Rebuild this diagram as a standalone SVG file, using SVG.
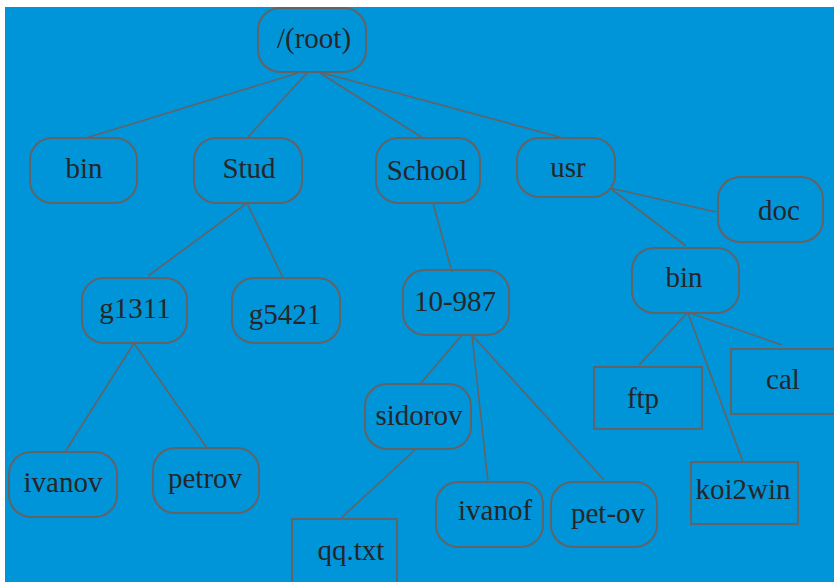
<svg xmlns="http://www.w3.org/2000/svg" width="834" height="582" viewBox="0 0 834 582">
<style>
.n{fill:none;stroke:#626366;stroke-width:2}
.t{font-family:"Liberation Serif",serif;font-size:29px;fill:#262628;text-anchor:middle}
.c{stroke:#626366;stroke-width:1.6;fill:none}
</style>
<rect x="0" y="0" width="834" height="582" fill="#ffffff"/>
<rect x="5" y="7" width="829" height="575" fill="#0095d9"/>
<g id="connectors">
<line class="c" x1="298" y1="73" x2="86" y2="138"/>
<line class="c" x1="307" y1="73" x2="247" y2="138"/>
<line class="c" x1="320" y1="73" x2="423" y2="138"/>
<line class="c" x1="323" y1="73" x2="563" y2="138"/>
<line class="c" x1="610" y1="188" x2="716" y2="212"/>
<line class="c" x1="610" y1="188" x2="686" y2="246"/>
<line class="c" x1="247" y1="203" x2="148" y2="276"/>
<line class="c" x1="247" y1="203" x2="283" y2="278"/>
<line class="c" x1="433" y1="203" x2="452" y2="272"/>
<line class="c" x1="134" y1="343" x2="65" y2="452"/>
<line class="c" x1="134" y1="343" x2="207" y2="448"/>
<line class="c" x1="462" y1="335" x2="420" y2="384"/>
<line class="c" x1="472" y1="335" x2="488" y2="482"/>
<line class="c" x1="472" y1="335" x2="604" y2="480"/>
<line class="c" x1="416" y1="449" x2="340" y2="519"/>
<line class="c" x1="687" y1="313" x2="639" y2="365"/>
<line class="c" x1="690" y1="313" x2="782" y2="345"/>
<line class="c" x1="688" y1="313" x2="743" y2="462"/>
</g>
<g id="root"><rect class="n" x="258" y="8" width="108" height="64" rx="22"/><text class="t" x="314" y="48">/(root)</text></g>
<g id="bin1"><rect class="n" x="30" y="138" width="107" height="65" rx="22"/><text class="t" x="84" y="178">bin</text></g>
<g id="stud"><rect class="n" x="194" y="138" width="108" height="65" rx="22"/><text class="t" x="249" y="178">Stud</text></g>
<g id="school"><rect class="n" x="376" y="138" width="104" height="65" rx="22"/><text class="t" x="427" y="180">School</text></g>
<g id="usr"><rect class="n" x="517" y="138" width="98" height="59" rx="22"/><text class="t" x="568" y="177">usr</text></g>
<g id="doc"><rect class="n" x="718" y="177" width="105" height="65" rx="22"/><text class="t" x="779" y="220">doc</text></g>
<g id="bin2"><rect class="n" x="632" y="248" width="107" height="65" rx="22"/><text class="t" x="684" y="287">bin</text></g>
<g id="g1311"><rect class="n" x="82" y="278" width="105" height="65" rx="22"/><text class="t" x="135" y="318">g1311</text></g>
<g id="g5421"><rect class="n" x="232" y="278" width="108" height="65" rx="22"/><text class="t" x="285" y="324">g5421</text></g>
<g id="n10987"><rect class="n" x="403" y="270" width="106" height="65" rx="22"/><text class="t" x="455" y="311">10-987</text></g>
<g id="sidorov"><rect class="n" x="365" y="384" width="106" height="65" rx="22"/><text class="t" x="419" y="425">sidorov</text></g>
<g id="ivanov"><rect class="n" x="9" y="452" width="108" height="65" rx="22"/><text class="t" x="63" y="492">ivanov</text></g>
<g id="petrov"><rect class="n" x="153" y="448" width="106" height="65" rx="22"/><text class="t" x="205" y="488">petrov</text></g>
<g id="ivanof"><rect class="n" x="436" y="482" width="107" height="65" rx="22"/><text class="t" x="495" y="520">ivanof</text></g>
<g id="petov"><rect class="n" x="551" y="482" width="106" height="65" rx="22"/><text class="t" x="608" y="523">pet-ov</text></g>
<g id="qqtxt"><rect class="n" x="292" y="519" width="105" height="80"/><text class="t" x="351" y="560">qq.txt</text></g>
<g id="ftp"><rect class="n" x="594" y="367" width="108" height="62"/><text class="t" x="643" y="408">ftp</text></g>
<g id="cal"><rect class="n" x="731" y="349" width="120" height="65"/><text class="t" x="783" y="389">cal</text></g>
<g id="koi2win"><rect class="n" x="691" y="462" width="107" height="62"/><text class="t" x="743" y="499">koi2win</text></g>
</svg>
